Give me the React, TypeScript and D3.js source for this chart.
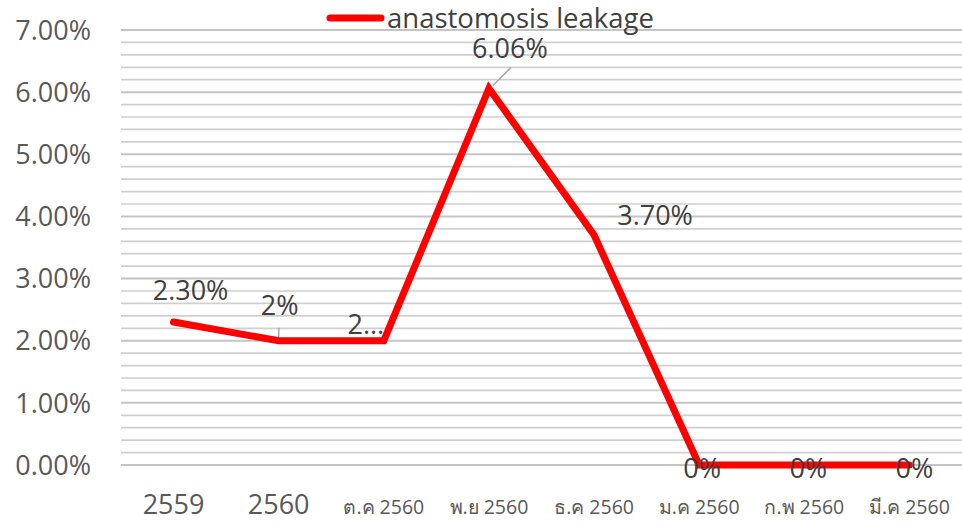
import React from "react";
import * as d3 from "d3";

const categories = ["2559", "2560", "ต.ค 2560", "พ.ย 2560", "ธ.ค 2560", "ม.ค 2560", "ก.พ 2560", "มี.ค 2560"];
const values = [2.3, 2.0, 2.0, 6.06, 3.7, 0, 0, 0];
const labels = ["2.30%", "2%", "2...", "6.06%", "3.70%", "0%", "0%", "0%"];
const yTicks = [0, 1, 2, 3, 4, 5, 6, 7];
const seriesName = "anastomosis leakage";

const W = 962, H = 522;
const left = 121, right = 962, top = 30, bottom = 465;

export default function App() {
  const x = d3.scaleBand<string>().domain(categories).range([left, right]);
  const y = d3.scaleLinear().domain([0, 7]).range([bottom, top]);
  const cx = (c: string) => (x(c) as number) + x.bandwidth() / 2;
  const line = d3.line<number>().x((_, i) => cx(categories[i])).y((v) => y(v));
  const minor = d3.range(0, 7.0001, 0.2);
  // label offsets (dx, dy) relative to point
  const off: [number, number][] = [[17, -32], [1, -35], [-18, -16], [21, -40], [61, -20], [3, 3], [4, 3], [5, 3]];
  const font = "'Open Sans', 'Noto Sans', sans-serif";
  return (
    <svg width={W} height={H} style={{ position: "absolute", left: 0, top: 0, background: "#fff" }} fontFamily={font}>
      {minor.map((v, i) => {
        const major = Math.abs(v - Math.round(v)) < 1e-6;
        return (
          <line key={i} x1={left} x2={right} y1={y(v)} y2={y(v)} stroke={major ? "#c4c4c4" : "#cfcfcf"} strokeWidth={major ? 2 : 1.7} />
        );
      })}
      {yTicks.map((t) => (
        <text key={t} x={91} y={y(t)} dy="0.36em" textAnchor="end" fontSize={27} fill="#595959">
          {t.toFixed(2) + "%"}
        </text>
      ))}
      {categories.map((c, i) => (
        <text key={c} x={cx(c)} y={514} textAnchor="middle" fontSize={i < 2 ? 27 : 19.5} fill="#595959">
          {c}
        </text>
      ))}
      <line x1={cx(categories[1])} x2={cx(categories[1])} y1={y(values[1]) - 13} y2={y(values[1]) - 3} stroke="#a6a6a6" strokeWidth={1.5} />
      <line x1={cx(categories[3]) + 4} x2={cx(categories[3]) + 22} y1={y(values[3]) - 3} y2={y(values[3]) - 21} stroke="#a6a6a6" strokeWidth={1.5} />
      <path d={line(values) || ""} fill="none" stroke="#ff0000" strokeWidth={7} strokeLinejoin="miter" strokeLinecap="round" />
      {values.map((v, i) => (
        <text key={i} x={cx(categories[i]) + off[i][0]} y={y(v) + off[i][1]} dy="0.36em" textAnchor="middle" fontSize={27} fill="#404040">
          {labels[i]}
        </text>
      ))}
      <line x1={330} x2={381} y1={18} y2={18} stroke="#ff0000" strokeWidth={7} strokeLinecap="round" />
      <text x={387} y={18} dy="0.36em" fontSize={27.5} fill="#404040">{seriesName}</text>
    </svg>
  );
}
